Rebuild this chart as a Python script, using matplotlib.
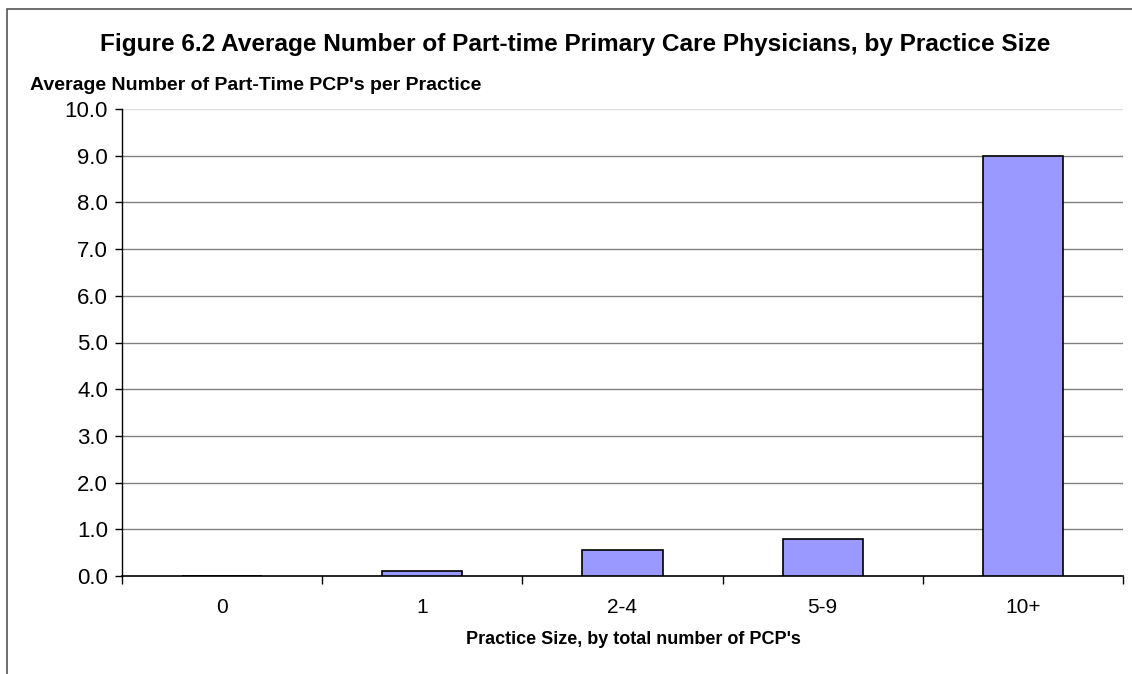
import matplotlib.pyplot as plt
from matplotlib.patches import Rectangle
import numpy as np

plt.rcParams['font.family'] = ['Liberation Sans', 'DejaVu Sans']

# Gjennomsnittlig antall deltids-PCP per praksisstørrelse
categories = ['0', '1', '2-4', '5-9', '10+']
values = [0.0, 0.11, 0.55, 0.79, 9.0]

W, H = 1132, 674
fig = plt.figure(figsize=(W / 100, H / 100), dpi=100)

# Ramme rundt hele diagrammet
fig.patches.append(Rectangle((7 / W, -0.1), 1.2, 1 - 9 / H + 0.1,
                             transform=fig.transFigure, fill=False,
                             edgecolor='#555555', linewidth=1.2))

ax = fig.add_axes([122 / W, 98 / H, 1001 / W, 467 / H])

x = np.arange(len(categories))
ax.bar(x, values, width=0.4, color='#9999FF', edgecolor='black',
       linewidth=1.2, zorder=3)

ax.set_xlim(-0.5, len(categories) - 0.5)
ax.set_ylim(0, 10)

# Rutenett
for yv in range(1, 10):
    ax.axhline(yv, color='#808080', linewidth=1.0, zorder=1)
ax.axhline(10, color='#dddddd', linewidth=1.0, zorder=1)

yt = np.arange(0, 10.5, 1.0)
ax.set_yticks(yt)
ax.set_yticklabels([f'{v:.1f}' for v in yt], fontsize=16)
ax.tick_params(axis='y', direction='out', length=5, width=1, pad=5)

ax.set_xticks(x)
ax.set_xticklabels(categories, fontsize=15)
ax.set_xticks(np.arange(-0.5, len(categories), 1.0), minor=True)
ax.tick_params(axis='x', which='major', length=0, pad=16)
ax.tick_params(axis='x', which='minor', direction='out', length=6, width=1)

for side in ['top', 'right']:
    ax.spines[side].set_visible(False)
ax.spines['left'].set_linewidth(1.0)
ax.spines['bottom'].set_linewidth(1.2)

fig.text(633 / W, 1 - 640 / H, "Practice Size, by total number of PCP's",
         fontsize=13, fontweight='bold', ha='center', va='center')
fig.text(30 / W, 1 - 86 / H, "Average Number of Part-Time PCP's per Practice",
         fontsize=14, fontweight='bold', ha='left', va='center')
fig.text(575 / W, 1 - 44 / H,
         'Figure 6.2 Average Number of Part-time Primary Care Physicians, by Practice Size',
         fontsize=17.6, fontweight='bold', ha='center', va='center')

fig.savefig('out.png', dpi=100)
